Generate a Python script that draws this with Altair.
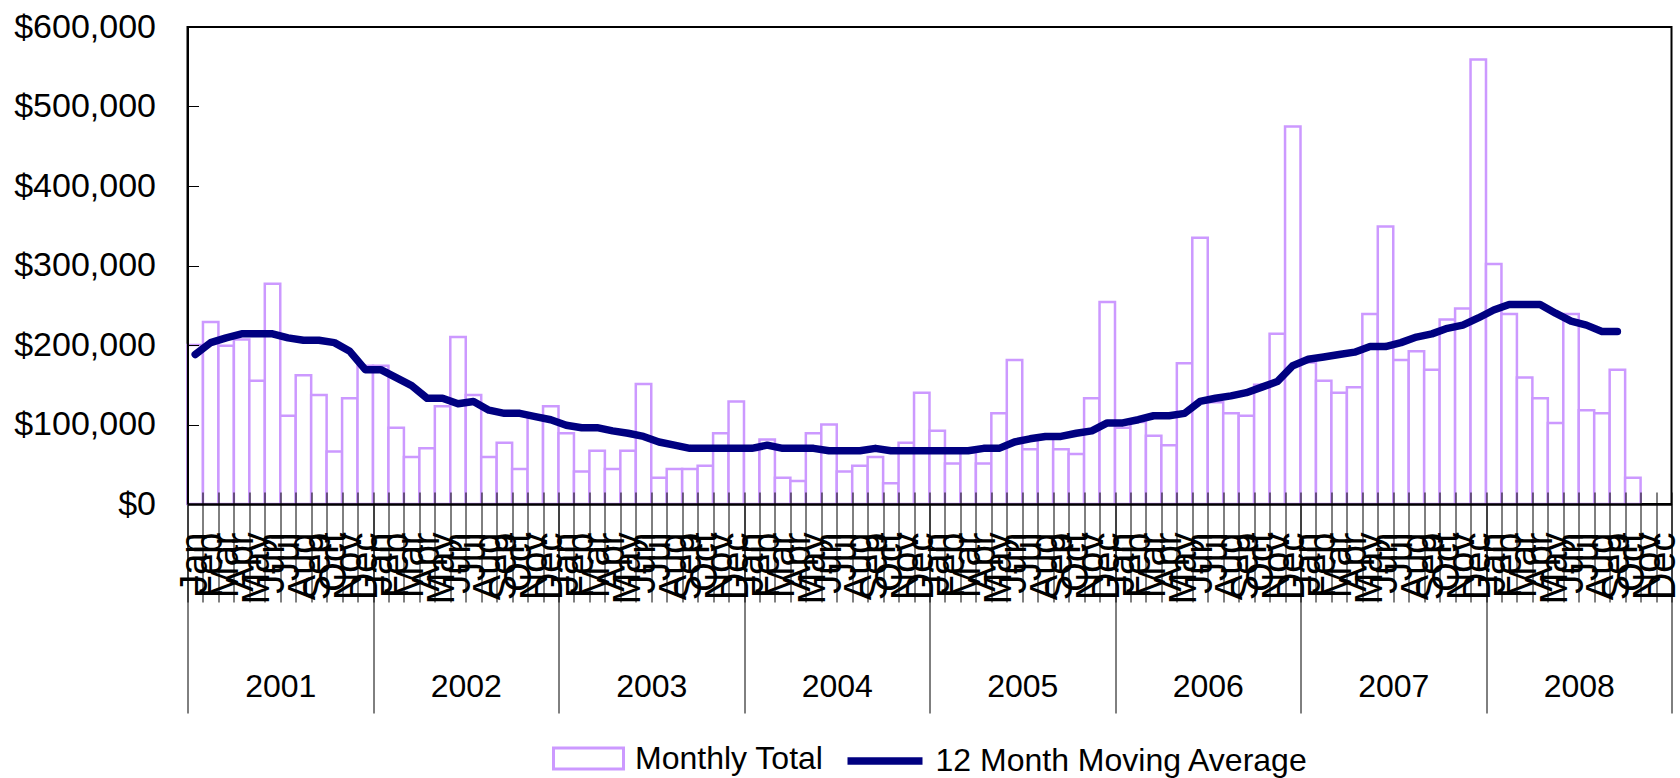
import altair as alt
import pandas as pd

# ---- data ----
years = ["2001", "2002", "2003", "2004", "2005", "2006", "2007", "2008"]
month_names = ["Jan", "Feb", "Mar", "Apr", "May", "Jun",
               "Jul", "Aug", "Sep", "Oct", "Nov", "Dec"]

# Monthly totals in thousands of dollars (None = no bar)
total_2001 = [200, 229, 199, 207, 155, 277, 111, 162, 137, 66, 133, 174]
total_2002 = [174, 96, 59, 70, 123, 210, 137, 59, 77, 44, 110, 123]
total_2003 = [89, 41, 67, 44, 67, 151, 33, 44, 44, 48, 89, 129]
total_2004 = [68, 81, 33, 29, 89, 100, 41, 48, 59, 26, 77, 140]
total_2005 = [92, 51, 65, 51, 114, 181, 69, 82, 69, 63, 133, 254]
total_2006 = [96, 103, 86, 74, 177, 335, 128, 114, 111, 150, 214, 475]
total_2007 = [178, 155, 140, 147, 239, 349, 181, 192, 169, 232, 246, 559]
total_2008 = [302, 239, 159, 133, 102, 239, 118, 114, 169, 33, None, None]

# 12 month moving average in thousands of dollars
avg_2001 = [188, 203, 209, 214, 214, 214, 209, 206, 206, 203, 192, 169]
avg_2002 = [169, 159, 149, 133, 133, 126, 129, 118, 114, 114, 110, 106]
avg_2003 = [99, 96, 96, 92, 89, 85, 78, 74, 70, 70, 70, 70]
avg_2004 = [70, 74, 70, 70, 70, 67, 67, 67, 70, 67, 67, 67]
avg_2005 = [67, 67, 67, 70, 70, 78, 82, 85, 85, 89, 92, 102]
avg_2006 = [102, 106, 111, 111, 114, 129, 133, 136, 140, 147, 154, 174]
avg_2007 = [182, 185, 188, 191, 198, 198, 203, 210, 214, 221, 225, 234]
avg_2008 = [244, 251, 251, 251, 240, 230, 225, 217, 217, None, None, None]

y_ticks = [0, 100000, 200000, 300000, 400000, 500000, 600000]

totals = total_2001 + total_2002 + total_2003 + total_2004 + total_2005 + total_2006 + total_2007 + total_2008
avgs = avg_2001 + avg_2002 + avg_2003 + avg_2004 + avg_2005 + avg_2006 + avg_2007 + avg_2008

periods = [f"{y}-{m}" for y in years for m in month_names]
df = pd.DataFrame({
    "period": periods,
    "total": [None if v is None else v * 1000 for v in totals],
    "avg": [None if v is None else v * 1000 for v in avgs],
})
df_years = pd.DataFrame({"year": years})

FONT = "Liberation Sans"
BAR_COLOR = "#CC99FF"
LINE_COLOR = "#000080"

month_scale = alt.Scale(domain=periods, paddingInner=0, paddingOuter=0)
y_scale = alt.Scale(domain=[0, 600000], nice=False)

x_month = alt.X(
    "period:O",
    scale=month_scale,
    axis=alt.Axis(
        title=None, labelAngle=270, labelFontSize=38, labelFont=FONT,
        labelColor="black", labelOverlap=False, labelFlush=False,
        labelExpr="split(datum.value, '-')[1]",
        tickBand="extent", tickSize=98, tickColor="black", tickWidth=1,
        labelPadding=-70, domainColor="black", domainWidth=2.5, zindex=1,
    ),
)
y_enc = alt.Y(
    "total:Q",
    scale=y_scale,
    axis=alt.Axis(
        title=None, values=y_ticks, format="$,.0f", labelFontSize=34,
        labelFont=FONT, labelColor="black", ticks=False, labelPadding=32,
        domainColor="black", domainWidth=2, grid=False, zindex=1,
    ),
)

bars = alt.Chart(df).transform_calculate(
    series="'Monthly Total'"
).mark_bar(fill="white", fillOpacity=1, strokeWidth=2.5).encode(
    x=x_month,
    y=y_enc,
    stroke=alt.Stroke(
        "series:N",
        scale=alt.Scale(domain=["Monthly Total"], range=[BAR_COLOR]),
        legend=alt.Legend(
            title=None, orient="none", legendX=364.5, legendY=695,
            symbolType="M-1,-0.3H1V0.3H-1Z", symbolSize=4900,
            symbolStrokeWidth=3, symbolFillColor="white",
            labelFontSize=32, labelFont=FONT, labelColor="black",
            labelOffset=10, padding=0, labelLimit=800,
        ),
    ),
)

line = alt.Chart(df).transform_calculate(
    series2="'12 Month Moving Average'"
).mark_line(strokeWidth=7.5, strokeCap="round", strokeJoin="round").encode(
    x=x_month,
    y=alt.Y("avg:Q"),
    stroke=alt.Stroke(
        "series2:N",
        scale=alt.Scale(domain=["12 Month Moving Average"], range=[LINE_COLOR]),
        legend=alt.Legend(
            title=None, orient="none", legendX=656, legendY=692.5,
            symbolType="stroke", symbolSize=5625, symbolStrokeWidth=7.5,
            labelFontSize=32, labelFont=FONT, labelColor="black",
            labelOffset=9, padding=0, labelLimit=800,
        ),
    ),
)

inner = alt.layer(bars, line).resolve_scale(stroke="independent").resolve_legend(stroke="independent")

# invisible layer that only carries the short inward tick marks of both axes
inward_ticks = alt.Chart(df).mark_tick(opacity=0).encode(
    x=alt.X(
        "period:O",
        scale=alt.Scale(domain=periods, paddingInner=0, paddingOuter=0),
        axis=alt.Axis(
            title=None, orient="bottom", offset=-12, labels=False, domain=False,
            tickBand="extent", tickSize=12, tickColor="black", tickWidth=1, zindex=2,
        ),
    ),
    y=alt.Y(
        "total:Q",
        scale=alt.Scale(domain=[0, 600000], nice=False),
        axis=alt.Axis(
            title=None, orient="left", offset=-11, labels=False, domain=False,
            values=y_ticks, tickSize=11, tickColor="black", tickWidth=1,
            grid=False, zindex=2,
        ),
    ),
)

year_layer = alt.Chart(df_years).mark_tick(opacity=0).encode(
    x=alt.X(
        "year:O",
        scale=alt.Scale(type="band", domain=years, paddingInner=0, paddingOuter=0),
        axis=alt.Axis(
            title=None, orient="bottom", labelAngle=0, labelFontSize=32,
            labelFont=FONT, labelColor="black", labelOverlap=False,
            tickBand="extent", tickSize=209, tickColor="black", tickWidth=1,
            labelPadding=-42, domain=False,
        ),
    ),
)

chart = alt.layer(inner, inward_ticks, year_layer).resolve_scale(
    x="independent", y="independent"
).properties(
    width=1484,
    height=477,
    padding={"left": 187.5, "top": 27, "right": 8.5, "bottom": 274},
    autosize=alt.AutoSizeParams(type="none"),
    background="white",
).configure_view(stroke="black", strokeWidth=2)

chart.save("out.html", embed_options={"renderer": "svg", "actions": False})
